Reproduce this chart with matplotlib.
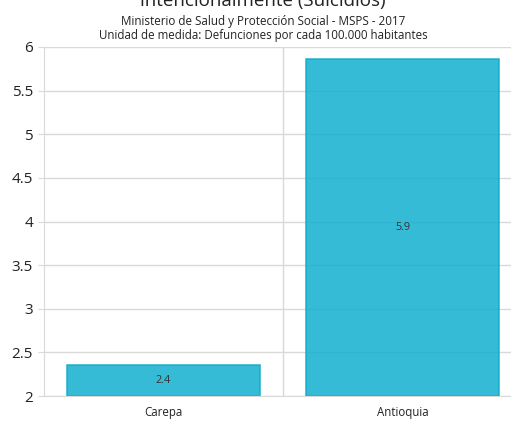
import matplotlib.pyplot as plt

plt.rcParams['font.family'] = ['Open Sans', 'DejaVu Sans']

categories = ["Carepa", "Antioquia"]
values = [2.355, 5.86]
labels = ["2.4", "5.9"]

fig = plt.figure(figsize=(5.11, 4.21), dpi=100)
ax = fig.add_axes([44 / 511, 25 / 421, 478 / 511, 349 / 421])

x = range(len(categories))
ax.bar(x, [v - 2 for v in values], bottom=2, width=0.81,
       color="#12b0cf", alpha=0.85, edgecolor="#0fabcb", linewidth=1.2, zorder=2)
for i, (v, lab) in enumerate(zip(values, labels)):
    ax.text(i, (2 + v) / 2, lab, ha="center", va="center",
            fontsize=7.8, color="#333333", zorder=3)

ax.set_xlim(-0.5, 1.5)
ax.set_ylim(2, 6)
ax.set_yticks([2, 2.5, 3, 3.5, 4, 4.5, 5, 5.5, 6])
ax.set_yticklabels(["2", "2.5", "3", "3.5", "4", "4.5", "5", "5.5", "6"])
ax.set_xticks(list(x))
ax.set_xticklabels(categories)
ax.tick_params(axis="y", length=4, color="#d9d9d9", labelsize=11, pad=4, labelcolor="#222222")
ax.tick_params(axis="x", length=0, labelsize=8.3, pad=7, labelcolor="#222222")

ax.set_axisbelow(True)
ax.grid(axis="y", color="#d9d9d9", linewidth=1, zorder=0)
ax.axvline(0.5, color="#d9d9d9", linewidth=1, zorder=0)
for s in ["top", "right"]:
    ax.spines[s].set_visible(False)
ax.spines["left"].set_color("#d9d9d9")
ax.spines["bottom"].set_color("#d9d9d9")

fig.text(263 / 511, 1 - 6 / 421, "intencionalmente (Suicidios)",
         ha="center", va="baseline", fontsize=13.5, color="#222222")
fig.text(263 / 511, 1 - 21 / 421, "Ministerio de Salud y Protección Social - MSPS - 2017",
         ha="center", va="center", fontsize=8.4, color="#222222")
fig.text(263 / 511, 1 - 35 / 421, "Unidad de medida: Defunciones por cada 100.000 habitantes",
         ha="center", va="center", fontsize=8.3, color="#222222")

fig.savefig("out.png", dpi=100)
